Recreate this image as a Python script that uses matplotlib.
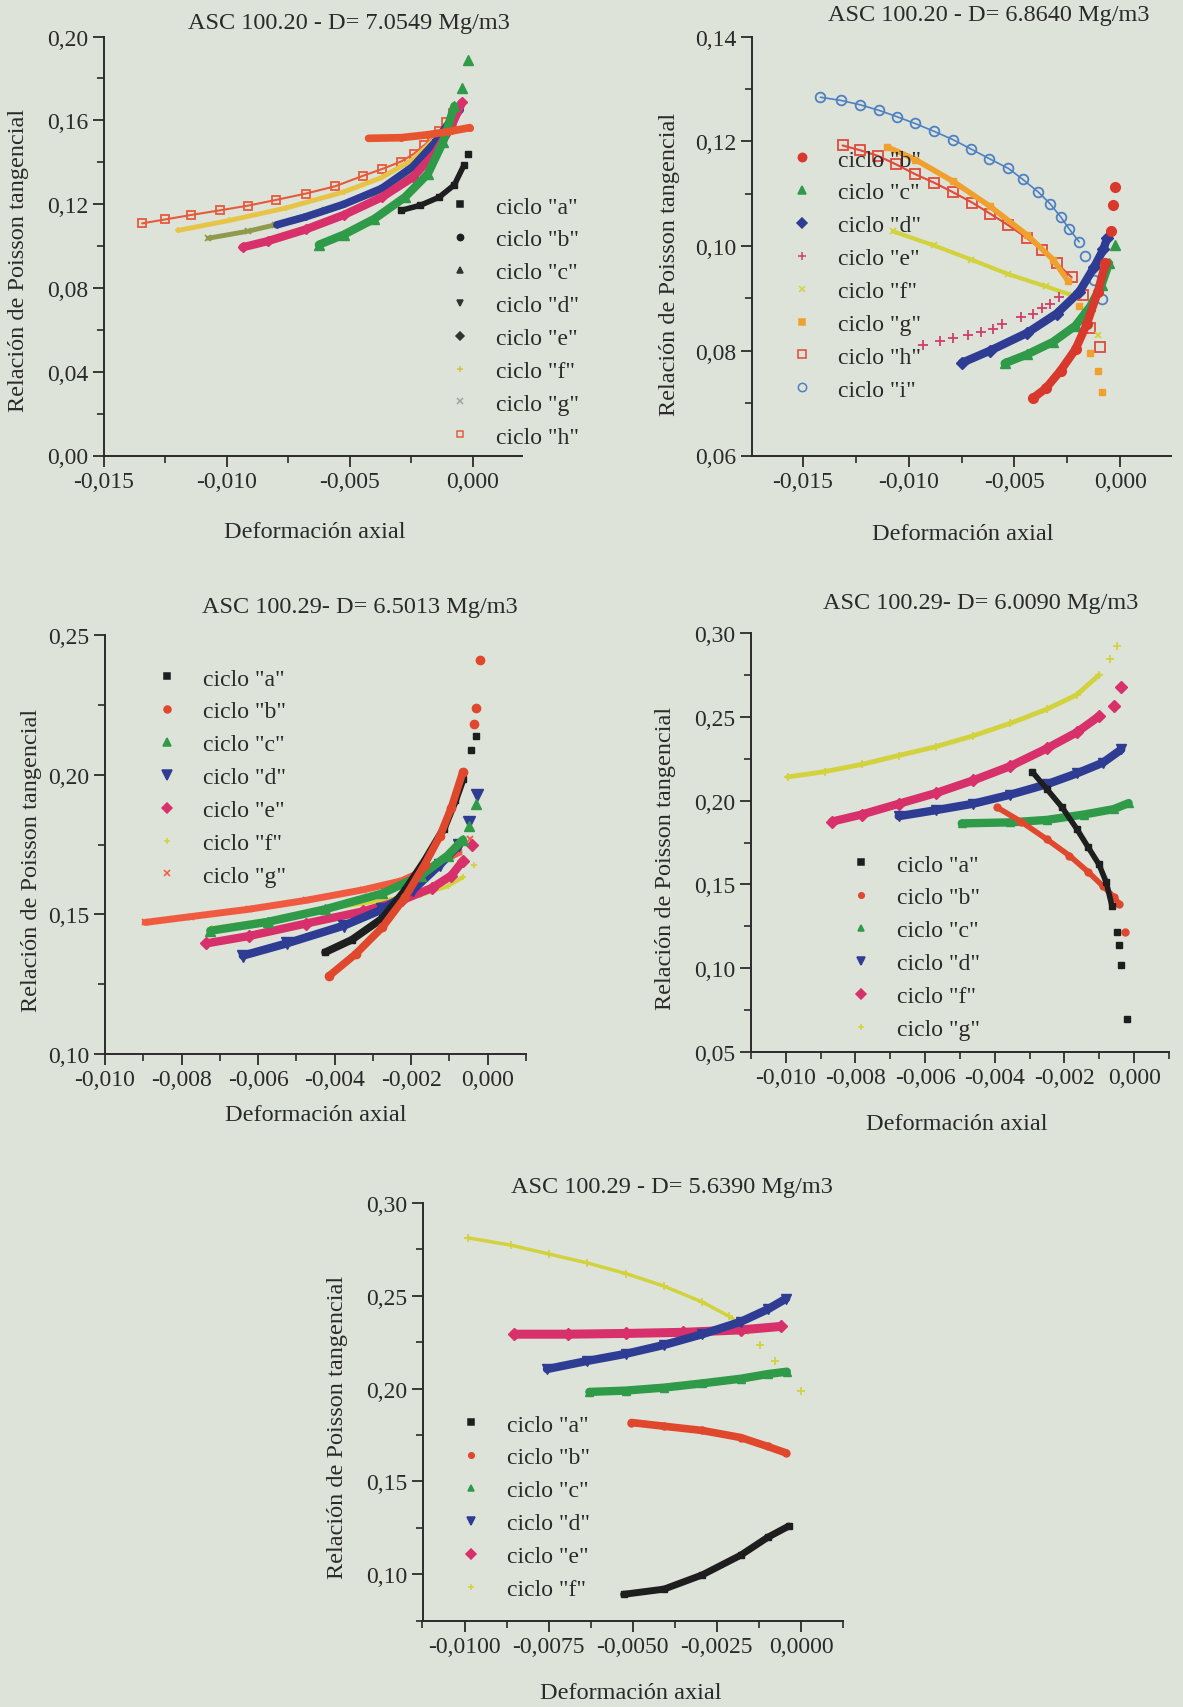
import numpy as np
import matplotlib
matplotlib.use("Agg")
import matplotlib.pyplot as plt
from matplotlib.lines import Line2D
from matplotlib.ticker import MultipleLocator, FuncFormatter

plt.rcParams['font.family'] = ['Liberation Serif', 'DejaVu Serif']

nan = np.nan
BG = '#dde3d9'

# ---------------- panel 1 : ASC 100.20 - D= 7.0549 ----------------
p1_x = {
    'a': [-0.00292, -0.00214, -0.00137, -0.00075, -0.00036, nan, -0.0002],
    'b': [-0.00424, -0.00292, -0.00183, -0.0009, -0.00012],
    'c': [-0.00626, -0.00525, -0.0040, -0.00276, -0.00183, -0.00121, -0.00075, nan, -0.00044, nan, -0.0002],
    'd': [-0.00797, -0.0068, -0.00525, -0.0037, -0.00245, -0.00152, -0.0009, -0.00051],
    'e': [-0.00936, -0.00835, -0.0068, -0.00525, -0.0037, -0.00245, -0.00152, -0.0009, -0.00044],
    'f': [-0.0120, -0.0099, -0.00758, -0.00525, -0.0037, -0.00245, -0.00152],
    'g': [-0.01076, -0.00913, -0.00804, -0.00603, -0.0040, -0.00245, -0.00136, -0.00075],
    'h': [-0.01345, -0.0125, -0.01146, -0.0103, -0.00913, -0.0080, -0.0068, -0.0056, -0.00447,
          -0.0037, -0.00292, -0.0024, -0.00199, -0.00165, -0.00137, -0.0011, -0.00082],
}
p1_y = {
    'a': [0.117, 0.1194, 0.1233, 0.1292, 0.1386, nan, 0.1437],
    'b': [0.1514, 0.1517, 0.1531, 0.1548, 0.1565],
    'c': [0.1006, 0.1054, 0.113, 0.1233, 0.1344, 0.1497, 0.1668, nan, 0.1753, nan, 0.1889],
    'd': [0.1101, 0.1139, 0.1199, 0.1275, 0.1378, 0.1497, 0.1599, 0.165],
    'e': [0.0994, 0.1023, 0.1079, 0.1148, 0.1233, 0.1327, 0.1446, 0.1565, 0.1685],
    'f': [0.1074, 0.1122, 0.1182, 0.1258, 0.1327, 0.1412, 0.1514],
    'g': [0.1037, 0.1071, 0.1101, 0.1173, 0.125, 0.1344, 0.1463, 0.1582],
    'h': [0.1108, 0.1127, 0.1148, 0.1170, 0.1193, 0.1220, 0.1250, 0.1285, 0.1335,
          0.1367, 0.1403, 0.1440, 0.148, 0.1512, 0.1548, 0.1590, 0.1633],
}

# ---------------- panel 2 : ASC 100.20 - D= 6.8640 ----------------
p2_x = {
    'b': [-0.00414, -0.00352, -0.00282, -0.00211, -0.00158, -0.00106, -0.0007, nan, -0.00044, nan, -0.00035, nan, -0.00026],
    'c': [-0.00546, -0.0044, -0.00317, -0.00211, -0.00141, -0.00088, -0.00053, nan, -0.00026],
    'd': [-0.00748, -0.00616, -0.0044, -0.0030, -0.00194, -0.00123, -0.00079, -0.00062],
    'e': [-0.0093, -0.0085, -0.0079, -0.0072, -0.0066, -0.0060, -0.0056, -0.0047, -0.0041, -0.0037, -0.0033, -0.0029],
    'f': [-0.01074, -0.0088, -0.00704, -0.00528, -0.00352, -0.00229, nan, -0.00158, nan, -0.00106],
    'g': [-0.0110, -0.00968, -0.00792, -0.00616, -0.0044, -0.00317, -0.00246, nan, -0.00194, nan, -0.00141, nan, -0.00106, nan, -0.00088],
    'h': [-0.01312, -0.0123, -0.01144, -0.0106, -0.00968, -0.0088, -0.00792, -0.0070, -0.00616, -0.0053,
          -0.0044, -0.0037, -0.0030, -0.00229, nan, -0.00176, nan, -0.00141, nan, -0.00097],
    'i': [-0.01417, -0.0132, -0.01232, -0.0114, -0.01056, -0.0097, -0.0088, -0.0079, -0.00704, -0.0062,
          -0.00528, -0.0046, -0.00387, -0.0033, -0.00282, -0.0024, -0.00194, nan, -0.00167, nan, -0.00123, nan, -0.00088],
}
p2_y = {
    'b': [0.0709, 0.0728, 0.0762, 0.0803, 0.0851, 0.0912, 0.0967, nan, 0.1028, nan, 0.1079, nan, 0.1112],
    'c': [0.0776, 0.0793, 0.0817, 0.0848, 0.0885, 0.0926, 0.0967, nan, 0.1002],
    'd': [0.0777, 0.080, 0.0834, 0.0871, 0.0912, 0.096, 0.0994, 0.1015],
    'e': [0.0811, 0.0818, 0.0824, 0.0830, 0.0835, 0.0842, 0.0851, 0.0864, 0.0870, 0.0881, 0.0890, 0.0902],
    'f': [0.1028, 0.1001, 0.0974, 0.0946, 0.0923, 0.0906, nan, 0.0871, nan, 0.0831],
    'g': [0.1189, 0.1165, 0.1124, 0.1076, 0.1021, 0.0974, 0.0933, nan, 0.0885, nan, 0.0796, nan, 0.0762, nan, 0.0721],
    'h': [0.1192, 0.1183, 0.1172, 0.1156, 0.1137, 0.1121, 0.1103, 0.1083, 0.1062, 0.1040,
          0.1015, 0.0992, 0.0967, 0.094, nan, 0.0906, nan, 0.0844, nan, 0.0807],
    'i': [0.1284, 0.1278, 0.127, 0.1259, 0.1247, 0.1234, 0.1219, 0.1203, 0.1185, 0.1167,
          0.1148, 0.1127, 0.1103, 0.1080, 0.1056, 0.1032, 0.1008, nan, 0.0981, nan, 0.0936, nan, 0.0899],
}

# ---------------- panel 3 : ASC 100.29 - D= 6.5013 ----------------
p3_x = {
    'a': [-0.00425, -0.00355, -0.00275, -0.00215, -0.00165, -0.00115, -0.00085, -0.00065, nan, -0.00045, nan, -0.0003],
    'b': [-0.00415, -0.00345, -0.00275, -0.00215, -0.00165, -0.00125, -0.00095, -0.00065, nan, -0.00035, nan, -0.0003, nan, -0.0002],
    'c': [-0.00725, -0.00575, -0.00425, -0.00275, -0.00175, -0.00105, -0.00065, nan, -0.0005, nan, -0.0003],
    'd': [-0.0064, -0.00525, -0.00375, -0.00275, -0.00195, -0.00125, -0.00075, nan, -0.0005, nan, -0.00027],
    'e': [-0.00735, -0.00625, -0.00475, -0.00325, -0.00225, -0.00145, -0.00095, -0.00065, nan, -0.0004],
    'f': [-0.0072, -0.00575, -0.00425, -0.00275, -0.00175, -0.00105, -0.00065, nan, -0.00035],
    'g': [-0.00895, -0.00775, -0.00625, -0.00475, -0.00325, -0.00225, -0.00145, -0.00075, nan, -0.00047],
}
p3_y = {
    'a': [0.1364, 0.1409, 0.1486, 0.1588, 0.1691, 0.1806, 0.1908, 0.1985, nan, 0.2087, nan, 0.2138],
    'b': [0.1279, 0.1358, 0.1454, 0.1563, 0.1678, 0.178, 0.1882, 0.201, nan, 0.2183, nan, 0.224, nan, 0.2409],
    'c': [0.1441, 0.1473, 0.1518, 0.1575, 0.1639, 0.171, 0.1767, nan, 0.1818, nan, 0.1895],
    'd': [0.1352, 0.1396, 0.146, 0.1518, 0.1588, 0.1678, 0.1748, nan, 0.1831, nan, 0.1927],
    'e': [0.1396, 0.1422, 0.1467, 0.1511, 0.155, 0.1595, 0.1639, 0.1691, nan, 0.1748],
    'f': [0.145, 0.148, 0.1518, 0.155, 0.1569, 0.1601, 0.1633, nan, 0.1678],
    'g': [0.1471, 0.1492, 0.1518, 0.155, 0.1588, 0.162, 0.1671, 0.1722, nan, 0.177],
}

# ---------------- panel 4 : ASC 100.29 - D= 6.0090 ----------------
p4_x = {
    'a': [-0.00293, -0.0025, -0.00207, -0.00165, -0.00133, -0.00101, -0.0008, -0.00064, nan, -0.00048, nan, -0.00043, nan, -0.00037, nan, -0.00021],
    'b': [-0.00394, -0.00325, -0.0025, -0.00186, -0.00133, -0.0009, -0.00059, -0.00043, nan, -0.00027],
    'c': [-0.00495, -0.00356, -0.0025, -0.00144, -0.00059, -0.00016],
    'd': [-0.00676, -0.00569, -0.00463, -0.00356, -0.0025, -0.00165, -0.0009, -0.00037],
    'f': [-0.00867, -0.00782, -0.00676, -0.00569, -0.00463, -0.00356, -0.0025, -0.00165, -0.00101, nan, -0.00059, nan, -0.00037],
    'g': [-0.00995, -0.00888, -0.00782, -0.00676, -0.00569, -0.00463, -0.00356, -0.0025, -0.00165, -0.00101, nan, -0.00069, nan, -0.00048],
}
p4_y = {
    'a': [0.2173, 0.2067, 0.196, 0.1832, 0.1725, 0.1619, 0.1512, 0.1374, nan, 0.1214, nan, 0.1139, nan, 0.1022, nan, 0.0698],
    'b': [0.196, 0.1875, 0.1768, 0.1672, 0.1576, 0.1491, 0.1427, 0.1384, nan, 0.1214],
    'c': [0.1864, 0.187, 0.1885, 0.1917, 0.1949, 0.1985],
    'd': [0.1907, 0.1943, 0.1981, 0.2035, 0.2098, 0.2162, 0.2226, 0.2305],
    'f': [0.1875, 0.1917, 0.1981, 0.2045, 0.212, 0.2205, 0.2312, 0.2407, 0.2503, nan, 0.2567, nan, 0.2678],
    'g': [0.2141, 0.2173, 0.2216, 0.2269, 0.2322, 0.2386, 0.2461, 0.2546, 0.2631, 0.2749, nan, 0.2844, nan, 0.2923],
}

# ---------------- panel 5 : ASC 100.29 - D= 5.6390 ----------------
p5_x = {
    'a': [-0.00527, -0.00407, -0.00293, -0.00179, -0.00099, -0.00036],
    'b': [-0.00504, -0.00407, -0.00293, -0.00179, -0.00099, -0.00044],
    'c': [-0.00629, -0.00521, -0.00407, -0.00293, -0.00179, -0.00099, -0.00042],
    'd': [-0.00755, -0.00635, -0.00521, -0.00407, -0.00293, -0.00179, -0.00099, -0.00044],
    'e': [-0.00852, -0.00692, -0.00521, -0.0035, -0.00179, -0.00059],
    'f': [-0.00989, -0.00863, -0.00749, -0.00635, -0.00521, -0.00407, -0.00293, -0.00213, -0.00156, nan, -0.00122, nan, -0.00076, nan, 0.00001],
}
p5_y = {
    'a': [0.0891, 0.0919, 0.0996, 0.1102, 0.1198, 0.1259],
    'b': [0.1817, 0.1797, 0.1774, 0.1736, 0.1688, 0.1653],
    'c': [0.1982, 0.1989, 0.2005, 0.2028, 0.2053, 0.2078, 0.2091],
    'd': [0.2105, 0.2149, 0.2187, 0.2235, 0.2293, 0.236, 0.2427, 0.2485],
    'e': [0.2293, 0.2293, 0.2297, 0.2303, 0.2316, 0.2335],
    'f': [0.2812, 0.2773, 0.2725, 0.2677, 0.262, 0.2552, 0.2466, 0.2389, 0.2312, nan, 0.2235, nan, 0.2149, nan, 0.1986],
}

# colours
BLACK = '#1e1e1e'
RED = '#e0482e'
GREEN = '#2f9a48'
BLUE = '#2e3c94'
MAGENTA = '#d8306a'
YELLOW = '#d2d23e'
INK = '#2a2a2a'

# style: (colour, marker, line width, marker size, open marker?)
p1_style = {
    'a': (BLACK, 's', 4, 4, False),
    'b': ('#e65530', 'o', 5.5, 4, False),
    'c': (GREEN, '^', 6, 7, False),
    'd': (BLUE, 'v', 5.5, 5, False),
    'e': (MAGENTA, 'D', 6, 5, False),
    'f': ('#e7c447', '+', 3.5, 5, False),
    'g': ('#8f9a4c', 'x', 3.5, 4, False),
    'h': ('#e65a3c', 's', 1.5, 6, True),
}
p2_style = {
    'b': ('#d9382c', 'o', 6, 7, False),
    'c': (GREEN, '^', 6, 7, False),
    'd': (BLUE, 'D', 6, 6, False),
    'e': ('#cf3f6c', '+', 0, 7, False),
    'f': (YELLOW, 'x', 3, 5, False),
    'g': ('#f0a02e', 's', 4, 5, False),
    'h': ('#e04a3a', 's', 1.5, 7, True),
    'i': ('#4f80c2', 'o', 1.2, 7, True),
}
p3_style = {
    'a': (BLACK, 's', 5.5, 5, False),
    'b': (RED, 'o', 5.5, 6, False),
    'c': (GREEN, '^', 6, 7, False),
    'd': (BLUE, 'v', 6, 8, False),
    'e': (MAGENTA, 'D', 6, 6, False),
    'f': (YELLOW, '+', 3, 5, False),
    'g': ('#ef5a40', 'x', 5, 5, False),
}
p4_style = {
    'a': (BLACK, 's', 4, 5, False),
    'b': (RED, 'o', 4, 5, False),
    'c': (GREEN, '^', 6, 6, False),
    'd': (BLUE, 'v', 6, 7, False),
    'f': (MAGENTA, 'D', 6, 6, False),
    'g': (YELLOW, '+', 3.5, 6, False),
}
p5_style = {
    'a': (BLACK, 's', 5, 5, False),
    'b': (RED, 'o', 5.5, 5, False),
    'c': (GREEN, '^', 6, 6, False),
    'd': (BLUE, 'v', 6, 7, False),
    'e': (MAGENTA, 'D', 6.5, 6, False),
    'f': (YELLOW, '+', 2.5, 6, False),
}
# legend symbol colours (panel 1 legend was printed mostly in black)
p1_legend_col = {'a': BLACK, 'b': BLACK, 'c': '#333333', 'd': '#333333', 'e': '#333333',
                 'f': '#d8c040', 'g': '#a0a0a0', 'h': '#e06040'}

W, H = 1183, 1708


def fx(px):
    return px / W


def fy(py):
    return 1 - py / H


fig = plt.figure(figsize=(W / 100, H / 100), dpi=100, facecolor=BG)


def make_axes(left, top, right, bottom):
    ax = fig.add_axes([fx(left), fy(bottom), fx(right - left), (bottom - top) / H])
    ax.set_facecolor(BG)
    for s in ['top', 'right']:
        ax.spines[s].set_visible(False)
    for s in ['left', 'bottom']:
        ax.spines[s].set_linewidth(1.4)
        ax.spines[s].set_color(INK)
    ax.tick_params(which='major', direction='out', length=8, width=1.3, labelsize=17,
                   color=INK, labelcolor=INK, pad=3)
    ax.tick_params(which='minor', direction='out', length=5, width=1.2, color=INK)
    return ax


def draw(ax, xs, ys, style, keys):
    for k in keys:
        col, mk, lw, ms, hollow = style[k]
        ax.plot(xs[k], ys[k], color=col, lw=lw, marker=mk, ms=ms,
                mfc='none' if hollow else col, mec=col,
                mew=1.3 if (hollow or mk in '+x') else 1,
                solid_capstyle='round', solid_joinstyle='round', zorder=3)


def legend(ax, style, keys, mx, my, cols=None, small=False):
    handles = []
    for k in keys:
        col, mk, lw, ms, hollow = style[k]
        if cols is not None:
            col = cols[k]
        size = 4.5 if small else max(4, ms - 1)
        h = Line2D([], [], ls='none', marker=mk, color=col, ms=size,
                   mfc='none' if hollow else col, mec=col, mew=1.1)
        handles.append(h)
    labels = ['ciclo "%s"' % k for k in keys]
    leg = ax.legend(handles, labels, loc='upper left', frameon=False, fontsize=17,
                    handlelength=1.0, handletextpad=1.05, labelspacing=0.48, borderpad=0,
                    borderaxespad=0, bbox_to_anchor=(fx(mx - 11), fy(my - 13)),
                    bbox_transform=fig.transFigure)
    for t in leg.get_texts():
        t.set_color(INK)


def labels(title, tx, ty, xlx, xly, ylx, yly):
    fig.text(fx(tx), fy(ty), title, ha='center', va='center', fontsize=17.5, color=INK)
    fig.text(fx(xlx), fy(xly), 'Deformación axial', ha='center', va='center',
             fontsize=17.5, color=INK)
    fig.text(fx(ylx), fy(yly), 'Relación de Poisson tangencial', ha='center', va='center',
             rotation=90, fontsize=17.5, color=INK)


def comma(fmt):
    return lambda v, pos: (fmt % v).replace('.', ',')


# panel 1
ax1 = make_axes(104, 37.5, 522, 456.5)
ax1.set_xlim(-0.015, 0.002)
ax1.set_ylim(0.0, 0.20)
ax1.xaxis.set_major_locator(MultipleLocator(0.005))
ax1.xaxis.set_minor_locator(MultipleLocator(0.0025))
ax1.yaxis.set_major_locator(MultipleLocator(0.04))
ax1.yaxis.set_minor_locator(MultipleLocator(0.02))
ax1.xaxis.set_major_formatter(FuncFormatter(comma('%.3f')))
ax1.yaxis.set_major_formatter(FuncFormatter(comma('%.2f')))
draw(ax1, p1_x, p1_y, p1_style, ['h', 'f', 'g', 'd', 'e', 'c', 'b', 'a'])
legend(ax1, p1_style, sorted(p1_x), 459, 210, p1_legend_col, small=True)
labels('ASC 100.20 - D= 7.0549 Mg/m3', 349, 23, 315, 532, 19, 260)

# panel 2
ax2 = make_axes(752, 37.5, 1171, 456.5)
ax2.set_xlim(-0.0174, 0.0024)
ax2.set_ylim(0.06, 0.14)
ax2.xaxis.set_major_locator(MultipleLocator(0.005))
ax2.xaxis.set_minor_locator(MultipleLocator(0.0025))
ax2.yaxis.set_major_locator(MultipleLocator(0.02))
ax2.yaxis.set_minor_locator(MultipleLocator(0.01))
ax2.xaxis.set_major_formatter(FuncFormatter(comma('%.3f')))
ax2.yaxis.set_major_formatter(FuncFormatter(comma('%.2f')))
draw(ax2, p2_x, p2_y, p2_style, ['i', 'h', 'g', 'f', 'e', 'd', 'c', 'b'])
legend(ax2, p2_style, sorted(p2_x), 801, 163)
labels('ASC 100.20 - D= 6.8640 Mg/m3', 989, 16, 963, 534, 669, 264)

# panel 3
ax3 = make_axes(105, 636, 526, 1055)
ax3.set_xlim(-0.010, 0.001)
ax3.set_ylim(0.10, 0.25)
ax3.xaxis.set_major_locator(MultipleLocator(0.002))
ax3.xaxis.set_minor_locator(MultipleLocator(0.001))
ax3.yaxis.set_major_locator(MultipleLocator(0.05))
ax3.yaxis.set_minor_locator(MultipleLocator(0.025))
ax3.xaxis.set_major_formatter(FuncFormatter(comma('%.3f')))
ax3.yaxis.set_major_formatter(FuncFormatter(comma('%.2f')))
draw(ax3, p3_x, p3_y, p3_style, ['g', 'f', 'e', 'd', 'c', 'a', 'b'])
legend(ax3, p3_style, sorted(p3_x), 166, 682)
labels('ASC 100.29- D= 6.5013 Mg/m3', 360, 607, 316, 1116, 32, 860)

# panel 4
ax4 = make_axes(751, 634, 1169, 1053)
ax4.set_xlim(-0.011, 0.001)
ax4.set_ylim(0.05, 0.30)
ax4.xaxis.set_major_locator(MultipleLocator(0.002))
ax4.xaxis.set_minor_locator(MultipleLocator(0.001))
ax4.yaxis.set_major_locator(MultipleLocator(0.05))
ax4.yaxis.set_minor_locator(MultipleLocator(0.025))
ax4.xaxis.set_major_formatter(FuncFormatter(comma('%.3f')))
ax4.yaxis.set_major_formatter(FuncFormatter(comma('%.2f')))
draw(ax4, p4_x, p4_y, p4_style, ['g', 'f', 'd', 'c', 'b', 'a'])
legend(ax4, p4_style, sorted(p4_x), 860, 868)
labels('ASC 100.29- D= 6.0090 Mg/m3', 981, 603, 957, 1125, 665, 858)

# panel 5
ax5 = make_axes(422.5, 1204, 843, 1621.5)
ax5.set_xlim(-0.01125, 0.00125)
ax5.set_ylim(0.075, 0.30)
ax5.xaxis.set_major_locator(MultipleLocator(0.0025))
ax5.xaxis.set_minor_locator(MultipleLocator(0.00125))
ax5.yaxis.set_major_locator(MultipleLocator(0.05))
ax5.yaxis.set_minor_locator(MultipleLocator(0.025))
ax5.xaxis.set_major_formatter(FuncFormatter(comma('%.4f')))
ax5.yaxis.set_major_formatter(FuncFormatter(comma('%.2f')))
draw(ax5, p5_x, p5_y, p5_style, ['f', 'e', 'd', 'c', 'b', 'a'])
legend(ax5, p5_style, sorted(p5_x), 470, 1428)
labels('ASC 100.29 - D= 5.6390 Mg/m3', 672, 1187, 631, 1694, 338, 1427)

fig.savefig('out.png', dpi=100, facecolor=BG)
